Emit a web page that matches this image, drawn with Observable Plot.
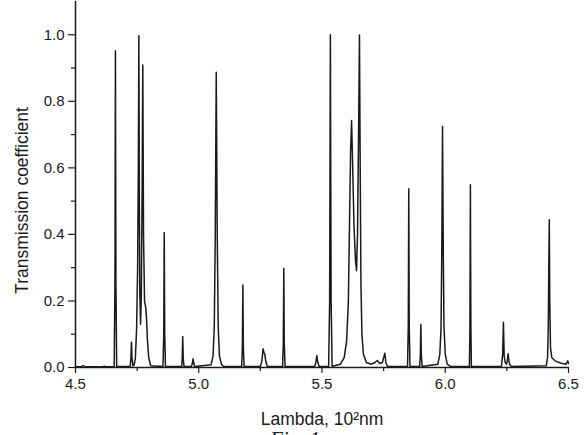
<!DOCTYPE html>
<html>
<head>
<meta charset="utf-8">
<script src="https://cdn.jsdelivr.net/npm/d3@7"></script>
<script src="https://cdn.jsdelivr.net/npm/@observablehq/plot@0.6"></script>
<style>
  html, body { margin: 0; padding: 0; background: #fff; overflow: hidden; }
  #chart svg { display: block; }
</style>
</head>
<body>
<div id="chart"></div>
<script>
// Wavelength (10^2 nm) and transmission coefficient
const wavelength = [
  4.500, 4.525, 4.531, 4.537, 4.610, 4.618, 4.625,
  4.657, 4.660, 4.662, 4.664, 4.667,
  4.722, 4.725, 4.727, 4.729, 4.733,
  4.738, 4.743, 4.748, 4.752, 4.755, 4.757, 4.759, 4.761, 4.764, 4.767, 4.770, 4.773, 4.776, 4.780, 4.785, 4.788, 4.792, 4.797, 4.805,
  4.855, 4.858, 4.860, 4.862, 4.865,
  4.931, 4.933, 4.935, 4.937, 4.940,
  4.970, 4.974, 4.977, 4.980, 4.984,
  5.050, 5.058, 5.063, 5.067, 5.069, 5.071, 5.073, 5.075, 5.079, 5.084, 5.092, 5.100,
  5.174, 5.177, 5.179, 5.181, 5.184,
  5.250, 5.256, 5.261, 5.265, 5.268, 5.272, 5.278,
  5.340, 5.343, 5.345, 5.347, 5.350,
  5.470, 5.475, 5.479, 5.483, 5.488,
  5.527, 5.531, 5.534, 5.537, 5.541,
  5.575, 5.590, 5.600, 5.607, 5.612, 5.616, 5.620, 5.624, 5.630, 5.636, 5.640, 5.644, 5.649, 5.652, 5.655, 5.658, 5.662, 5.668, 5.680,
  5.700, 5.715, 5.724, 5.735, 5.745, 5.752, 5.755, 5.759, 5.765,
  5.847, 5.850, 5.852, 5.854, 5.857,
  5.896, 5.899, 5.901, 5.903, 5.906,
  5.970, 5.978, 5.983, 5.986, 5.989, 5.992, 5.995, 6.000, 6.008, 6.020,
  6.098, 6.100, 6.102, 6.104, 6.106,
  6.228, 6.233, 6.236, 6.239, 6.243, 6.249, 6.252, 6.255, 6.258, 6.262, 6.268,
  6.410, 6.415, 6.418, 6.420, 6.422, 6.424, 6.427, 6.432, 6.445, 6.470, 6.490, 6.497, 6.500
];
const transmission = [
  0.002, 0.003, 0.006, 0.003, 0.002, 0.004, 0.002,
  0.003, 0.25, 0.952, 0.25, 0.003,
  0.003, 0.03, 0.076, 0.03, 0.005,
  0.008, 0.03, 0.12, 0.30, 0.60, 0.997, 0.50, 0.22, 0.13, 0.22, 0.50, 0.909, 0.40, 0.20, 0.18, 0.15, 0.08, 0.03, 0.005,
  0.003, 0.10, 0.406, 0.10, 0.003,
  0.003, 0.03, 0.093, 0.03, 0.003,
  0.003, 0.012, 0.026, 0.012, 0.003,
  0.008, 0.035, 0.12, 0.40, 0.65, 0.887, 0.65, 0.40, 0.12, 0.035, 0.010, 0.004,
  0.003, 0.06, 0.248, 0.06, 0.003,
  0.003, 0.02, 0.056, 0.044, 0.040, 0.018, 0.004,
  0.003, 0.07, 0.298, 0.07, 0.003,
  0.003, 0.015, 0.036, 0.015, 0.003,
  0.004, 0.20, 1.000, 0.20, 0.004,
  0.010, 0.03, 0.08, 0.20, 0.45, 0.65, 0.742, 0.62, 0.42, 0.32, 0.291, 0.40, 0.75, 0.999, 0.60, 0.25, 0.10, 0.04, 0.015,
  0.010, 0.015, 0.021, 0.012, 0.015, 0.035, 0.043, 0.015, 0.004,
  0.003, 0.12, 0.537, 0.12, 0.003,
  0.003, 0.04, 0.129, 0.04, 0.003,
  0.010, 0.04, 0.12, 0.35, 0.724, 0.35, 0.12, 0.04, 0.010, 0.004,
  0.003, 0.12, 0.549, 0.12, 0.003,
  0.004, 0.04, 0.136, 0.035, 0.015, 0.010, 0.020, 0.041, 0.022, 0.008, 0.003,
  0.005, 0.03, 0.12, 0.30, 0.444, 0.20, 0.06, 0.03, 0.020, 0.013, 0.010, 0.020, 0.012
];

const xTicks = [4.5, 5.0, 5.5, 6.0, 6.5];
const xMinorTicks = [4.75, 5.25, 5.75, 6.25];
const yTicks = [0.0, 0.2, 0.4, 0.6, 0.8, 1.0];
const yMinorTicks = [0.1, 0.3, 0.5, 0.7, 0.9];

const xTitle = "Lambda, 10²nm";
const yTitle = "Transmission coefficient";
const figCaption = "Fig. 1";

const data = wavelength.map((w, i) => ({w, t: transmission[i]}));

const ink = "#1a1a1a";
const chart = Plot.plot({
  width: 586,
  height: 435,
  marginTop: 1,
  marginLeft: 75,
  marginRight: 18,
  marginBottom: 68,
  style: {fontFamily: "'Liberation Sans', Arial, sans-serif", fontSize: "15px", color: ink, background: "#fff", overflow: "visible"},
  x: {domain: [4.5, 6.5]},
  y: {domain: [0, 1.1]},
  marks: [
    Plot.axisY(yMinorTicks, {tickSize: 4, tickFormat: null, text: null, label: null, stroke: ink, strokeWidth: 1.2}),
    Plot.axisY(yTicks, {tickSize: 7, tickPadding: 4, tickFormat: d3.format(".1f"), label: null, stroke: ink, strokeWidth: 1.2, fontSize: 15}),
    Plot.axisX(xMinorTicks, {tickSize: 4, tickFormat: null, text: null, label: null, stroke: ink, strokeWidth: 1.2}),
    Plot.axisX(xTicks, {tickSize: 6, tickPadding: 5, tickFormat: d3.format(".1f"), label: null, stroke: ink, strokeWidth: 1.2, fontSize: 15}),
    Plot.line(data, {x: "w", y: "t", stroke: ink, strokeWidth: 1.5, curve: "linear"}),
    Plot.ruleX([4.5], {stroke: ink, strokeWidth: 1.5}),
    Plot.ruleY([0], {stroke: ink, strokeWidth: 1.5}),
    Plot.text([xTitle], {frameAnchor: "bottom", text: d => d, dy: 57, fontSize: 17.5, fill: ink}),
    Plot.text([yTitle], {frameAnchor: "left", textAnchor: "middle", text: d => d, rotate: -90, dx: -53, dy: 16, fontSize: 17.5, fill: ink}),
    Plot.text([figCaption], {frameAnchor: "bottom", text: d => d, dx: -27, dy: 64, lineAnchor: "top", fontSize: 21, fontStyle: "italic", fontFamily: "'Liberation Serif', 'Times New Roman', serif", fill: ink})
  ]
});
document.getElementById("chart").appendChild(chart);
</script>
</body>
</html>
